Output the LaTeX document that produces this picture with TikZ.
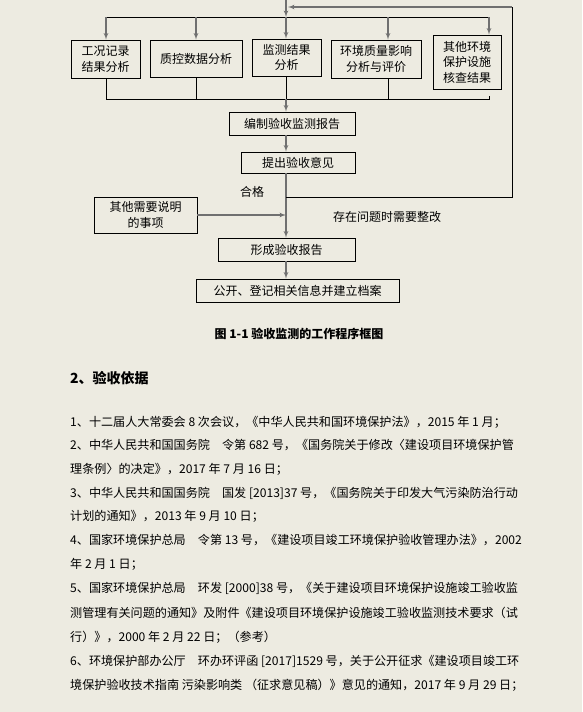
\documentclass[tikz,border=0pt]{standalone}
\usepackage{fontspec}
\setmainfont{Noto Sans CJK SC}
\usepackage{tikz}
\usetikzlibrary{arrows, positioning}
\definecolor{pagebg}{RGB}{237, 235, 225}
\definecolor{flowgray}{RGB}{112, 112, 112}

\begin{document}
\begin{tikzpicture}[x=1pt, y=-1pt,
    box/.style={rectangle, draw=black, line width=0.9pt, inner sep=0pt, align=center, font=\fontsize{12}{15.5}\selectfont},
    line/.style={draw, -latex', line width=1.2pt, color=flowgray},
    bus/.style={draw, line width=0.9pt, color=black},
    lbl/.style={inner sep=0pt, font=\fontsize{12}{14}\selectfont},
    para/.style={anchor=west, inner sep=0pt, font=\fontsize{12.1}{14}\selectfont}]

    \fill [pagebg] (0,0) rectangle (582,712);
    \useasboundingbox (0,0) rectangle (582,712);

    % flow chart
    \node [box, minimum width=69pt, minimum height=38pt] (rec) at (105.5,59) {工况记录\\结果分析};
    \node [box, minimum width=92pt, minimum height=37pt] (qc) at (196,58.5) {质控数据分析};
    \node [box, minimum width=69pt, minimum height=37pt] (mon) at (286.5,57.5) {监测结果\\分析};
    \node [box, minimum width=90pt, minimum height=38pt] (env) at (376,59) {环境质量影响\\分析与评价};
    \node [box, minimum width=68pt, minimum height=54pt] (fac) at (467,62) {其他环境\\保护设施\\核查结果};
    \node [box, minimum width=126pt, minimum height=23pt] (rpt) at (292,123.5) {编制验收监测报告};
    \node [box, minimum width=114pt, minimum height=21pt] (opn) at (298,162.5) {提出验收意见};
    \node [box, minimum width=103pt, minimum height=36pt] (oth) at (145.5,215) {其他需要说明\\的事项};
    \node [box, minimum width=137pt, minimum height=23pt] (acc) at (286.5,249.5) {形成验收报告};
    \node [box, minimum width=203pt, minimum height=23pt] (pub) at (297.5,290.5) {公开、登记相关信息并建立档案};

    \coordinate (src) at (286,0);
    \coordinate (tj) at (286,17);
    \coordinate (tl) at (106,17);
    \coordinate (t4) at (388,17);
    \coordinate (tr) at (489,17);
    \coordinate (bl) at (106,99);
    \coordinate (bj) at (286,99);
    \coordinate (br) at (489,99);
    \coordinate (fb) at (286,197);
    \coordinate (fbr) at (512,197);
    \coordinate (fbt) at (512,7);
    \coordinate (fbe) at (288,7);

    \path [line] (src) -- (tj);
    \path [bus] (tl) -- (tr);
    \path [line] (tl) -- (tl |- rec.north);
    \path [line] (qc.north |- tl) -- (qc.north);
    \path [line] (tj) -- (tj |- mon.north);
    \path [line] (t4) -- (t4 |- env.north);
    \path [line] (tr) -- (tr |- fac.north);

    \path [bus] (bl |- rec.south) -- (bl) -- (br) -- ++(0,-3);
    \path [bus] (qc.south) -- (qc.south |- bl);
    \path [bus] (bj |- mon.south) -- (bj);
    \path [bus] (t4 |- env.south) -- (t4 |- bl);

    \path [line] (bj) -- (bj |- rpt.north);
    \path [line] (bj |- rpt.south) -- (bj |- opn.north);
    \path [line] (bj |- opn.south) -- (bj |- acc.north);
    \path [line] (oth.east) -- (oth.east -| bj);
    \path [line] (bj |- acc.south) -- (bj |- pub.north);

    \path [bus] (fb) -- (fbr) -- (fbt);
    \path [line] (fbt) -- (fbe);

    \node [lbl] (ok) at (252,192) {合格};
    \node [lbl] (fix) at (387,217) {存在问题时需要整改};

    % caption and list
    \node [lbl, font=\bfseries\fontsize{12}{14}\selectfont] (cap) at (299,334) {图 1-1 验收监测的工作程序框图};
    \node [para, font=\bfseries\fontsize{14}{16}\selectfont] (sec) at (70,378) {2、验收依据};

    \node [para] (l1) at (70,422) {1、十二届人大常委会 8 次会议，《中华人民共和国环境保护法》，2015 年 1 月；};
    \node [para] (l2) at (70,445) {2、中华人民共和国国务院　令第 682 号，《国务院关于修改〈建设项目环境保护管};
    \node [para] (l3) at (70,469) {理条例〉的决定》，2017 年 7 月 16 日；};
    \node [para] (l4) at (70,493) {3、中华人民共和国国务院　国发 [2013]37 号，《国务院关于印发大气污染防治行动};
    \node [para] (l5) at (70,516) {计划的通知》，2013 年 9 月 10 日；};
    \node [para] (l6) at (70,540) {4、国家环境保护总局　令第 13 号，《建设项目竣工环境保护验收管理办法》，2002};
    \node [para] (l7) at (70,564) {年 2 月 1 日；};
    \node [para] (l8) at (70,588) {5、国家环境保护总局　环发 [2000]38 号，《关于建设项目环境保护设施竣工验收监};
    \node [para] (l9) at (70,613) {测管理有关问题的通知》及附件《建设项目环境保护设施竣工验收监测技术要求（试};
    \node [para] (l10) at (70,637) {行）》，2000 年 2 月 22 日；（参考）};
    \node [para] (l11) at (70,661) {6、环境保护部办公厅　环办环评函 [2017]1529 号，关于公开征求《建设项目竣工环};
    \node [para] (l12) at (70,685) {境保护验收技术指南 污染影响类 （征求意见稿）》意见的通知，2017 年 9 月 29 日；};
\end{tikzpicture}
\end{document}
